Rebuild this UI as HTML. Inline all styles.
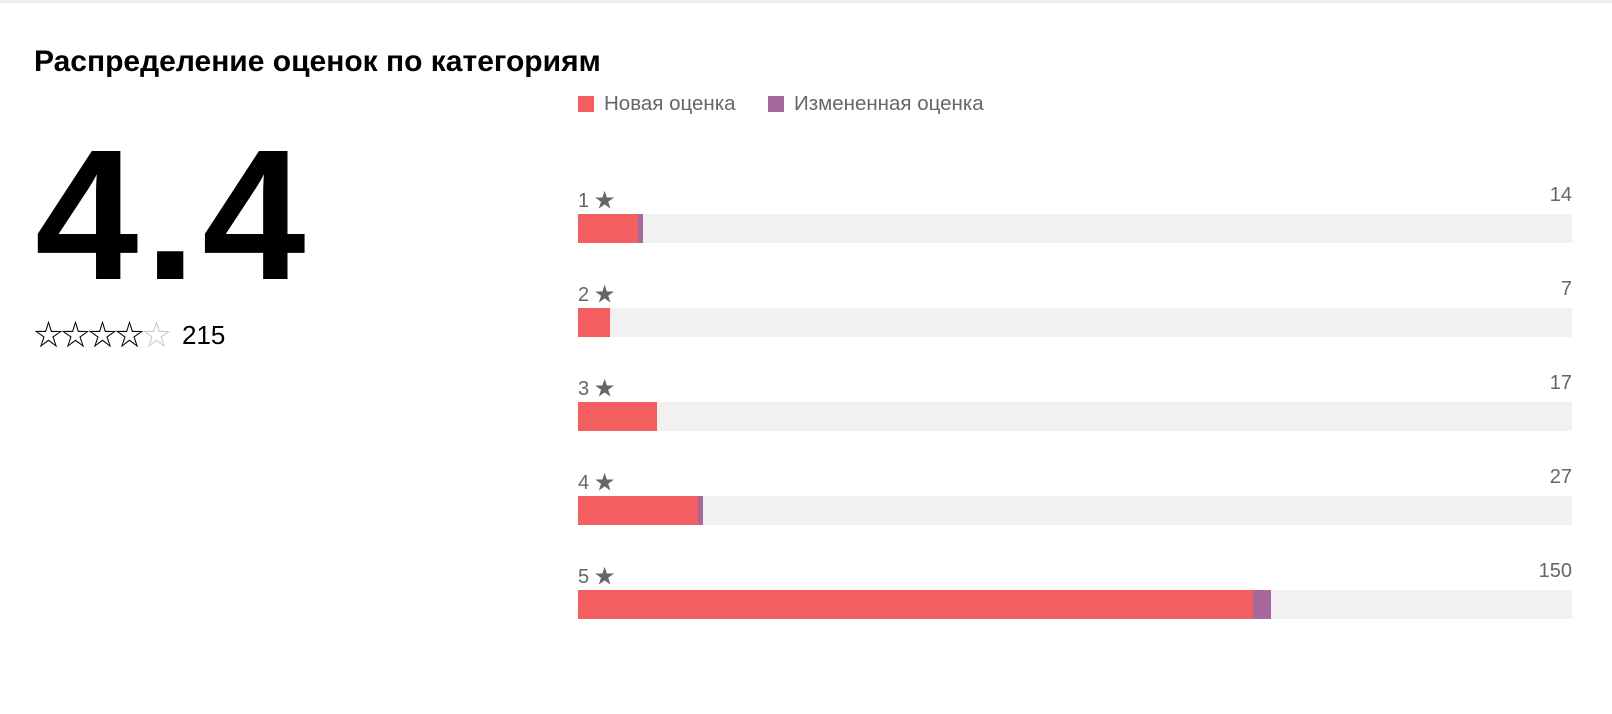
<!DOCTYPE html>
<html><head><meta charset="utf-8">
<style>
body{margin:0;width:1612px;height:714px;background:#fff;font-family:"Liberation Sans","Noto Sans CJK SC",sans-serif;position:relative;overflow:hidden}
.topline{position:absolute;left:0;top:0;width:1612px;height:3px;background:#ececec}
h1{position:absolute;left:34px;top:45px;margin:0;font-size:30px;font-weight:bold;color:#000}
.big{position:absolute;left:35px;top:123px;font-size:186px;font-weight:bold;line-height:1;letter-spacing:6px}
.stars{position:absolute;left:34px;top:322px;font-size:29px;line-height:1;letter-spacing:-2px;color:#000}
.count{position:absolute;left:182px;top:320px;font-size:26px;color:#000}
.legend{position:absolute;top:92px;font-size:20.5px;color:#666;display:flex;align-items:center}
.sw{width:16px;height:16px;margin-right:10px}
.lab{position:absolute;font-size:20px;color:#666}
</style></head><body>
<div class="topline"></div>
<h1>Распределение оценок по категориям</h1>
<div class="big">4.4</div>
<div class="stars">☆☆☆☆<span style="color:#ccc">☆</span></div>
<div class="count">215</div>
<div class="legend" style="left:578px"><div class="sw" style="background:#f35e60"></div>Новая оценка</div>
<div class="legend" style="left:768px"><div class="sw" style="background:#a7689b"></div>Измененная оценка</div>
<div id="chart"></div>
<script>
const categories=["1 ★","2 ★","3 ★","4 ★","5 ★"];
const newVals=[13,7,17,26,146];
const changedVals=[1,0,0,1,4];
const totalReviews=215;
const X0=578,W=994,Y0=214,STEP=94,H=29;
function xs(v){return v/totalReviews*W;}
const c=document.getElementById('chart');
categories.forEach((cat,i)=>{
  const y=Math.round(Y0+i*STEP);
  const l=document.createElement('div');l.className='lab';l.style.left=X0+'px';l.style.top=(y-30)+'px';l.textContent=cat;
  
  
  c.appendChild(l);
  const t=document.createElement('div');t.className='lab';t.style.left=(X0+W-100)+'px';t.style.width='100px';t.style.textAlign='right';t.style.top=(y-30)+'px';t.textContent=newVals[i]+changedVals[i];
  
  
  c.appendChild(t);
  const tr=document.createElement('div');tr.style.cssText=`position:absolute;left:${X0}px;top:${y}px;width:${W}px;height:${H}px;background:#f1f1f1`;
  
  
  c.appendChild(tr);
  const r=document.createElement('div');r.style.cssText=`position:absolute;left:${X0}px;top:${y}px;width:${xs(newVals[i])}px;height:${H}px;background:#f35e60`;
  
  
  c.appendChild(r);
  const p=document.createElement('div');p.style.cssText=`position:absolute;left:${X0+xs(newVals[i])}px;top:${y}px;width:${xs(changedVals[i])}px;height:${H}px;background:#a7689b`;
  
  
  c.appendChild(p);
});
</script>
</body></html>
